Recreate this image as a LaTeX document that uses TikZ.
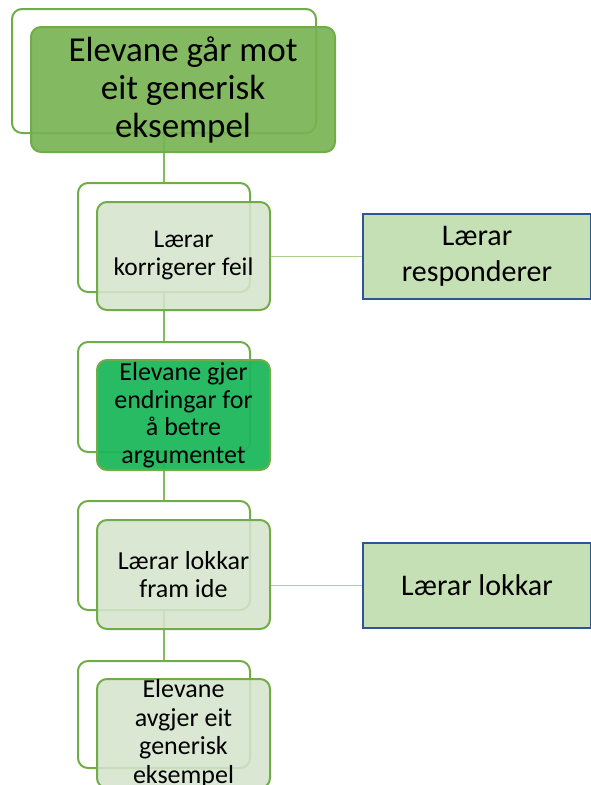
\documentclass[tikz,border=0pt]{standalone}
\usepackage{fontspec}
\setmainfont{Carlito}
\definecolor{leafline}{HTML}{70AD47}
\definecolor{leaffill}{HTML}{78B354}
\definecolor{palefill}{HTML}{D5E4CD}
\definecolor{brightfill}{HTML}{1DB65C}
\definecolor{sidefill}{HTML}{C5E0B4}
\definecolor{sideline}{HTML}{2F5597}
\definecolor{linkline}{HTML}{A9D18E}
\begin{document}
\begin{tikzpicture}[x=1pt,y=-1pt,
  backbox/.style={draw=leafline,line width=2pt,rounded corners=10pt,fill=none,inner sep=0pt},
  frontbox/.style={draw=leafline,line width=2pt,rounded corners=10pt,inner sep=0pt,align=center,text=black},
  sidebox/.style={draw=sideline,line width=2pt,fill=sidefill,inner sep=0pt,align=center,text=black,
    minimum width=228pt,minimum height=85pt},
  stem/.style={draw=leafline!85,line width=2.5pt},
  link/.style={draw=linkline,line width=1.2pt}]
\useasboundingbox (0,0) rectangle (591,785);
\clip (0,0) rectangle (591,785);

% back outlines of the tree
\node[backbox,minimum width=304pt,minimum height=124pt] (b1) at (164,71) {};
\node[backbox,minimum width=172pt,minimum height=109pt] (b2) at (164,237.5) {};
\node[backbox,minimum width=172pt,minimum height=110pt] (b3) at (164,397) {};
\node[backbox,minimum width=172pt,minimum height=109pt] (b4) at (164,555.5) {};
\node[backbox,minimum width=172pt,minimum height=107pt] (b5) at (164,714.5) {};

% vertical stem between levels
\draw[stem] (b1.south) -- (b2.north);
\draw[stem] (b2.south) -- (b3.north);
\draw[stem] (b3.south) -- (b4.north);
\draw[stem] (b4.south) -- (b5.north);

% front boxes
\node[frontbox,fill=leaffill,fill opacity=0.92,text opacity=1,minimum width=304pt,minimum height=125pt,
  font=\fontsize{35}{38}\selectfont] (f1) at (183,89.5)
  {Elevane går mot\\eit generisk\\eksempel};
\node[frontbox,fill=palefill,fill opacity=0.88,text opacity=1,minimum width=173pt,minimum height=108pt,
  font=\fontsize{25.5}{28}\selectfont] (f2) at (183.5,256)
  {Lærar\\korrigerer feil};
\node[frontbox,fill=brightfill,fill opacity=0.95,text opacity=1,minimum width=173pt,minimum height=110pt,
  font=\fontsize{26}{27.5}\selectfont] (f3) at (183.5,415)
  {Elevane gjer\\endringar for\\å betre\\argumentet};
\node[frontbox,fill=palefill,fill opacity=0.88,text opacity=1,minimum width=173pt,minimum height=109pt,
  font=\fontsize{26}{28}\selectfont] (f4) at (183.5,574.5)
  {Lærar lokkar\\fram ide};
\node[frontbox,fill=palefill,fill opacity=0.88,text opacity=1,minimum width=173pt,minimum height=109pt,
  font=\fontsize{26}{28.5}\selectfont] (f5) at (183.5,733.5)
  {Elevane\\avgjer eit\\generisk\\eksempel};

% side boxes
\node[sidebox,font=\fontsize{30}{36}\selectfont] (s1) at (477,256.5) {Lærar\\responderer};
\node[sidebox,font=\fontsize{30}{36}\selectfont] (s2) at (477,585.5) {Lærar lokkar};

% links to side boxes
\draw[link] (f2.east |- s1.west) -- (s1.west);
\draw[link] (f4.east |- s2.west) -- (s2.west);
\end{tikzpicture}
\end{document}
